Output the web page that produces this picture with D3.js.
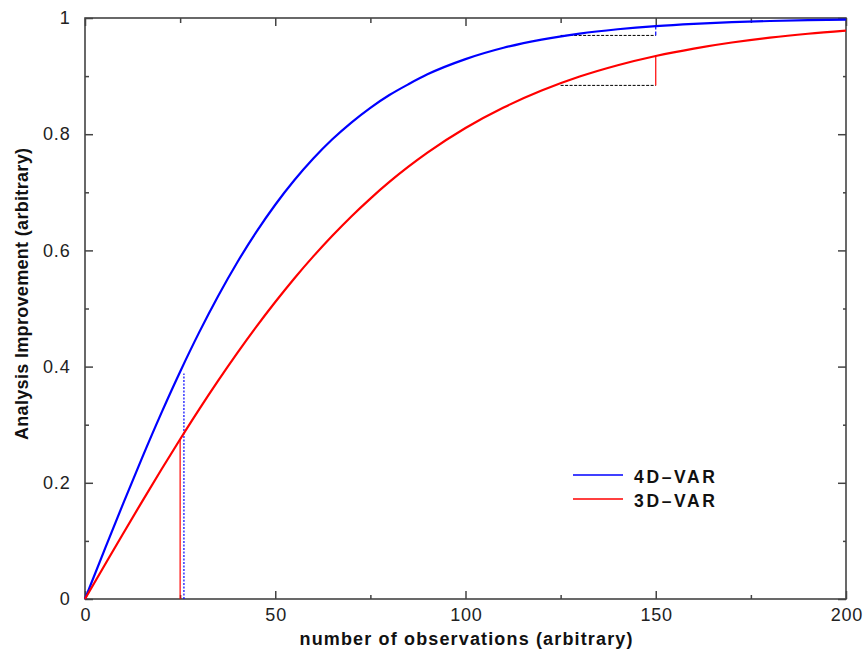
<!DOCTYPE html>
<html>
<head>
<meta charset="utf-8">
<script src="https://cdn.jsdelivr.net/npm/d3@7/dist/d3.min.js"></script>
<style>
  html, body { margin: 0; padding: 0; background: #fff; }
  svg { display: block; font-family: "Liberation Sans", Arial, Helvetica, sans-serif; }
</style>
</head>
<body>
<svg id="chart" width="864" height="658"></svg>
<script>
// Number of observations (x) at which each curve is sampled
const observations = [0, 5, 10, 15, 20, 25, 30, 35, 40, 45, 50, 55, 60, 65, 70, 75, 80, 85, 90,
                      100, 110, 120, 130, 140, 150, 160, 170, 180, 190, 200];

// Analysis improvement for 4D-VAR
const improvement4D = [0, 0.0824, 0.1638, 0.2430, 0.3191, 0.3912, 0.4589, 0.5216, 0.5792, 0.6315,
                       0.6786, 0.7207, 0.7581, 0.7912, 0.8200, 0.8454, 0.8674, 0.8860, 0.9030,
                       0.9292, 0.9487, 0.9628, 0.9732, 0.9806, 0.9861, 0.9900, 0.9928, 0.9948,
                       0.9963, 0.9973];

// Analysis improvement for 3D-VAR
const improvement3D = [0, 0.0563, 0.1124, 0.1677, 0.2220, 0.2749, 0.3263, 0.3757, 0.4231, 0.4683,
                       0.5111, 0.5517, 0.5897, 0.6252, 0.6585, 0.6892, 0.7178, 0.7440, 0.7682,
                       0.8106, 0.8459, 0.8751, 0.8992, 0.9187, 0.9346, 0.9474, 0.9578, 0.9662,
                       0.9729, 0.9783];

const legendLabels = ["4D\u2013VAR", "3D\u2013VAR"];
const seriesColors = ["#0000ff", "#ff0000"];

// Tick values
const xMajorTicks = [0, 50, 100, 150, 200];
const xMinorTicks = [25, 75, 125, 175];
const yMajorTicks = [0, 0.2, 0.4, 0.6, 0.8, 1];
const yMinorTicks = [0.1, 0.3, 0.5, 0.7, 0.9];

// Reference markers: low-count comparison and the 125 -> 150 gain
const lowCount3D = { x: 25, y: 0.275 };
const lowCount4D = { x: 26, y: 0.388 };
const gainFrom = 125, gainTo = 150;
const gain4D = { from: 0.970, to: 0.986 };
const gain3D = { from: 0.884, to: 0.9346 };

const svg = d3.select("#chart");
const plotLeft = 85, plotRight = 846, plotTop = 18, plotBottom = 599;

const x = d3.scaleLinear().domain([0, 200]).range([plotLeft, plotRight]);
const y = d3.scaleLinear().domain([0, 1]).range([plotBottom, plotTop]);

const axisColor = "#444";
const tickFont = 18, tickSpacing = 0.8;

function styleAxis(g) {
  g.select(".domain").remove();
  g.selectAll(".tick line").attr("stroke", axisColor).attr("stroke-width", 1.5);
  g.selectAll(".tick text")
    .attr("fill", "#222")
    .attr("font-size", tickFont)
    .attr("letter-spacing", tickSpacing);
}

// Bottom axis with labels
svg.append("g").attr("transform", `translate(0,${plotBottom})`)
  .call(d3.axisBottom(x).tickValues(xMajorTicks).tickSize(-8).tickPadding(9.5).tickFormat(d3.format("d")))
  .call(styleAxis)
  .call(g => g.selectAll(".tick text").attr("dx", tickSpacing / 2));
svg.append("g").attr("transform", `translate(0,${plotBottom})`)
  .call(d3.axisBottom(x).tickValues(xMinorTicks).tickSize(-4).tickFormat(""))
  .call(styleAxis);

// Left axis with labels
svg.append("g").attr("transform", `translate(${plotLeft},0)`)
  .call(d3.axisLeft(y).tickValues(yMajorTicks).tickSize(-8).tickPadding(14.5)
    .tickFormat(d => d === 0 || d === 1 ? d3.format("d")(d) : d3.format(".1f")(d)))
  .call(styleAxis);
svg.append("g").attr("transform", `translate(${plotLeft},0)`)
  .call(d3.axisLeft(y).tickValues(yMinorTicks).tickSize(-4).tickFormat(""))
  .call(styleAxis);

// Mirrored ticks on top and right
svg.append("g").attr("transform", `translate(0,${plotTop})`)
  .call(d3.axisTop(x).tickValues(xMajorTicks).tickSize(-8).tickFormat(""))
  .call(styleAxis);
svg.append("g").attr("transform", `translate(0,${plotTop})`)
  .call(d3.axisTop(x).tickValues(xMinorTicks).tickSize(-5).tickFormat(""))
  .call(styleAxis);
svg.append("g").attr("transform", `translate(${plotRight},0)`)
  .call(d3.axisRight(y).tickValues(yMajorTicks).tickSize(-8).tickFormat(""))
  .call(styleAxis);
svg.append("g").attr("transform", `translate(${plotRight},0)`)
  .call(d3.axisRight(y).tickValues(yMinorTicks).tickSize(-3).tickFormat(""))
  .call(styleAxis);

// Plot frame
svg.append("rect")
  .attr("x", plotLeft).attr("y", plotTop)
  .attr("width", plotRight - plotLeft).attr("height", plotBottom - plotTop)
  .attr("fill", "none").attr("stroke", axisColor).attr("stroke-width", 1.6);

// Marker lines
const markers = svg.append("g").attr("fill", "none");
// 3D-VAR at low count: solid red vertical
markers.append("line")
  .attr("x1", x(lowCount3D.x)).attr("x2", x(lowCount3D.x))
  .attr("y1", y(0)).attr("y2", y(lowCount3D.y))
  .attr("stroke", "#ff0000").attr("stroke-width", 1.2);
// 4D-VAR at low count: dotted blue vertical
markers.append("line")
  .attr("x1", x(lowCount4D.x)).attr("x2", x(lowCount4D.x))
  .attr("y1", y(0)).attr("y2", y(lowCount4D.y))
  .attr("stroke", "#0000ff").attr("stroke-width", 1.2).attr("stroke-dasharray", "2,1.5");
// Gain from 125 to 150 observations
[[gain4D, "#0000ff", "4,2"], [gain3D, "#ff0000", null]].forEach(([g, c, dash]) => {
  markers.append("line")
    .attr("x1", x(gainFrom)).attr("x2", x(gainTo))
    .attr("y1", y(g.from)).attr("y2", y(g.from))
    .attr("stroke", "#000").attr("stroke-width", 1).attr("stroke-dasharray", "3,1.5");
  const v = markers.append("line")
    .attr("x1", x(gainTo)).attr("x2", x(gainTo))
    .attr("y1", y(g.from)).attr("y2", y(g.to))
    .attr("stroke", c).attr("stroke-width", 1.2);
  if (dash) v.attr("stroke-dasharray", dash);
});

// Curves
const line = d3.line()
  .x((d, i) => x(observations[i]))
  .y(d => y(d))
  .curve(d3.curveMonotoneX);

[improvement4D, improvement3D].forEach((vals, i) => {
  svg.append("path")
    .datum(vals)
    .attr("class", "series")
    .attr("fill", "none")
    .attr("stroke", seriesColors[i])
    .attr("stroke-width", 2.2)
    .attr("d", line);
});

// Legend
const legend = svg.append("g").attr("transform", "translate(573,475)");
legendLabels.forEach((name, i) => {
  const row = legend.append("g").attr("transform", `translate(0,${i * 24})`);
  row.append("line").attr("x1", 0).attr("x2", 50).attr("y1", 0).attr("y2", 0)
    .attr("stroke", seriesColors[i]).attr("stroke-width", 1.5);
  row.append("text").attr("x", 61).attr("y", 8)
    .attr("font-size", 17.5).attr("font-weight", "bold").attr("fill", "#111")
    .attr("textLength", 81).attr("lengthAdjust", "spacing")
    .text(name);
});

// Axis titles
svg.append("text")
  .attr("x", 466).attr("y", 645)
  .attr("text-anchor", "middle")
  .attr("font-size", 18).attr("font-weight", "bold").attr("fill", "#111")
  .attr("textLength", 333).attr("lengthAdjust", "spacing")
  .text("number of observations (arbitrary)");

svg.append("text")
  .attr("transform", "translate(28,294) rotate(-90)")
  .attr("text-anchor", "middle")
  .attr("font-size", 18).attr("font-weight", "bold").attr("fill", "#111")
  .attr("textLength", 292).attr("lengthAdjust", "spacing")
  .text("Analysis Improvement (arbitrary)");
</script>
</body>
</html>
